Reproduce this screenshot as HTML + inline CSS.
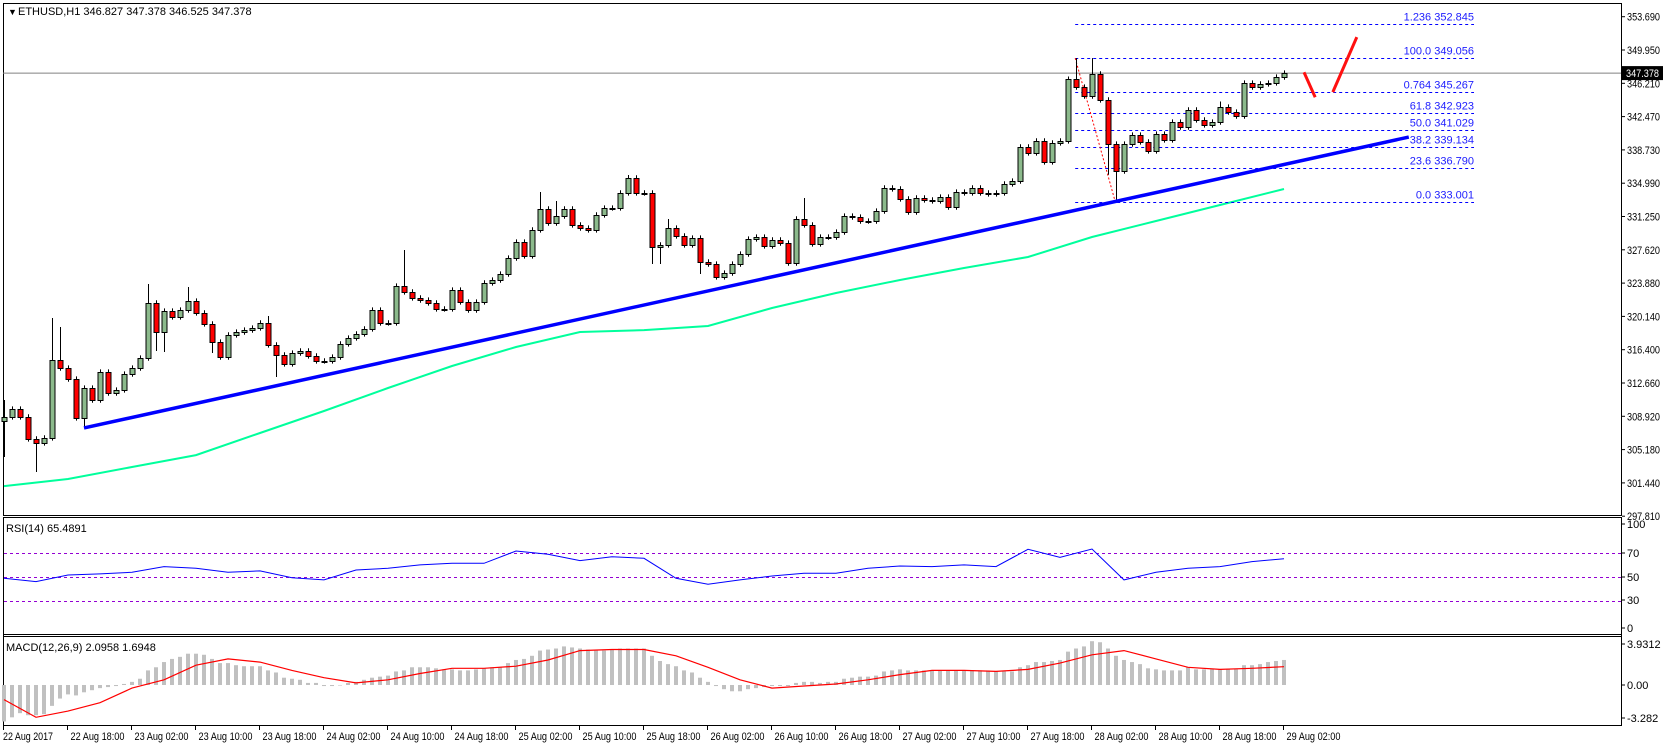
<!DOCTYPE html>
<html><head><meta charset="utf-8"><title>ETHUSD H1</title>
<style>
html,body{margin:0;padding:0;background:#fff;}
svg{display:block;font-family:"Liberation Sans",Tahoma,sans-serif;}
</style></head>
<body>
<svg id="chart" width="1663" height="746" viewBox="0 0 1663 746" xmlns="http://www.w3.org/2000/svg">
<rect x="0" y="0" width="1663" height="746" fill="#fff"/>
<g id="frames" fill="none" stroke="#000" stroke-width="1">
<rect x="3.5" y="3.5" width="1618" height="512"/>
<line x1="3" y1="517.5" x2="1622" y2="517.5"/>
<line x1="3" y1="634.5" x2="1622" y2="634.5"/>
<line x1="3" y1="636.5" x2="1622" y2="636.5"/>
<line x1="3.5" y1="517" x2="3.5" y2="726"/>
<line x1="1621.5" y1="517" x2="1621.5" y2="726"/>
<line x1="3" y1="725.5" x2="1622" y2="725.5"/>
</g>
<text x="8" y="15" font-size="9">▼</text>
<text x="18" y="15" font-size="11" fill="#000">ETHUSD,H1  346.827 347.378 346.525 347.378</text>
<text x="6" y="532" font-size="11" fill="#000">RSI(14) 65.4891</text>
<text x="6" y="651" font-size="11" fill="#000">MACD(12,26,9) 2.0958 1.6948</text>
<g id="layer"></g>
</svg>
<script>
// ===== data =====
const closes = [308.89,309.78,308.89,306.43,305.98,306.54,315.27,314.37,313.14,308.78,
312.13,310.79,313.92,311.57,311.91,313.70,314.37,315.49,321.65,318.40,
320.75,320.08,320.86,321.87,320.53,319.30,317.28,315.60,318.07,318.40,
318.62,318.85,319.41,316.95,315.83,314.82,316.05,316.28,315.72,315.16,
315.16,315.60,317.06,317.73,318.18,318.74,320.86,319.41,319.41,323.55,
322.88,322.21,321.98,321.65,320.98,320.98,323.10,321.76,320.86,321.76,
323.89,324.22,324.89,326.68,328.47,326.91,329.82,332.17,330.60,331.38,
332.17,330.38,330.04,329.82,331.50,332.28,332.28,333.96,335.64,333.96,
333.96,327.91,328.14,330.04,329.15,328.14,328.92,326.24,326.01,324.56,
325.00,326.01,327.13,328.81,329.03,328.03,328.70,328.36,326.12,331.05,
330.38,328.25,329.03,329.03,329.59,331.38,331.27,330.82,330.82,331.94,
334.52,334.41,333.29,331.83,333.40,333.18,333.07,333.51,332.39,334.07,
333.96,334.52,333.96,333.85,333.96,334.97,335.30,339.11,338.44,339.78,
337.43,339.56,339.78,346.72,345.82,344.81,347.28,344.37,339.44,336.42,
339.44,340.45,339.67,338.66,340.56,339.89,341.90,341.34,343.25,342.13,
341.57,341.90,343.58,343.02,342.57,346.27,345.82,346.16,346.27,346.94,347.378];
const firstOpen = 308.4;
const highs = {0:310.79,6:319.97,7:318.96,18:323.77,23:323.44,33:320.19,50:327.58,67:334.07,69:333.06,78:335.97,83:331.05,100:333.40,134:349.056,136:349.056,152:344.2,133:347.0};
const lows = {0:304.41,4:302.73,10:307.66,19:316.28,20:316.17,26:316.05,34:313.37,81:326.01,82:326.01,87:324.89,139:333.001,138:336.0};
const maStep = 8;
const maValues = [301.16,301.95,303.29,304.63,307.10,309.56,312.13,314.60,316.72,318.40,318.62,319.07,321.09,322.77,324.22,325.56,326.80,329.03,330.82,332.62,334.41];
const trendBars = [10,175.6];
const trendPrices = [307.66,340.22];
const fibRatios = ["1.236","100.0","0.764","61.8","50.0","38.2","23.6","0.0"];
const fibPrices = [352.845,349.056,345.267,342.923,341.029,339.134,336.790,333.001];
const fibBars = [133.9,183.75];
const fibDiagBars = [133.9,138.9];
const fibDiagPrices = [349.056,333.001];
const arrowBars = [[162.5,163.9],[166.1,169.1]];
const arrowPrices = [[347.47,344.67],[345.25,351.4]];
const priceTicks = ["353.690","349.950","346.210","342.470","338.730","334.990","331.250","327.620","323.880","320.140","316.400","312.660","308.920","305.180","301.440","297.810"];
const lastPrice = 347.378;
const rsiStep = 4;
const rsiValues = [49.2,46.4,51.9,52.8,54.2,58.9,57.5,54.2,55.3,49.7,47.8,56.1,57.5,60.3,61.7,61.7,71.9,69.2,63.9,67.2,
65.8,49.2,44.2,47.8,51.1,53.3,53.3,57.5,59.4,58.9,60.3,58.9,73.3,66.7,73.6,47.8,54.2,57.5,58.9,63.1,65.49];
const rsiLevels = [70,50,30];
const rsiTicks = ["100","70","50","30","0"];
const macdHist = [-3.5,-3.1,-2.7,-2.9,-2.9,-2.8,-2.0,-1.3,-0.9,-1.0,-0.7,-0.5,-0.3,-0.2,-0.1,0.1,0.3,0.6,1.4,1.7,
2.2,2.5,2.7,3.0,3.0,2.9,2.5,2.1,2.1,1.9,1.8,1.8,1.8,1.4,1.2,0.7,0.6,0.5,0.2,0.2,
-0.1,-0.1,0,0.2,0.3,0.5,0.7,0.8,0.9,1.3,1.4,1.7,1.7,1.7,1.6,1.5,1.5,1.4,1.4,1.5,
1.6,1.7,1.7,2.1,2.4,2.5,2.8,3.3,3.4,3.5,3.7,3.6,3.5,3.4,3.3,3.3,3.4,3.5,3.5,3.5,
3.5,2.8,2.3,2.0,1.8,1.4,1.2,0.7,0.3,-0.1,-0.4,-0.6,-0.6,-0.4,-0.3,-0.2,-0.1,-0.1,-0.1,0.2,
0.3,0.3,0.2,0.3,0.3,0.6,0.7,0.8,0.8,0.9,1.3,1.4,1.5,1.4,1.4,1.4,1.4,1.4,1.4,1.4,
1.4,1.4,1.4,1.4,1.3,1.3,1.3,1.7,1.9,2.2,2.2,2.3,2.4,3.2,3.5,3.7,4.2,4.1,3.5,2.8,
2.4,2.2,2.0,1.6,1.5,1.4,1.4,1.4,1.7,1.5,1.5,1.5,1.5,1.5,1.5,1.9,1.9,2.0,2.2,2.3,2.4];
const sigStep = 4;
const macdSignal = [-1.4,-3.1,-2.5,-1.7,-0.3,0.5,1.9,2.5,2.2,1.4,0.7,0.2,0.5,1.1,1.6,1.6,1.8,2.4,3.3,3.4,
3.4,2.8,1.7,0.5,-0.3,-0.1,0.1,0.5,1.0,1.4,1.4,1.3,1.5,2.1,2.9,3.3,2.5,1.7,1.5,1.6,1.75];
const macdTicks = ["3.9312","0.00","-3.282"];
const macdTickVals = [3.9312,0,-3.282];
const timeLabels = ["22 Aug 18:00","23 Aug 02:00","23 Aug 10:00","23 Aug 18:00","24 Aug 02:00","24 Aug 10:00","24 Aug 18:00","25 Aug 02:00","25 Aug 10:00","25 Aug 18:00","26 Aug 02:00","26 Aug 10:00","26 Aug 18:00","27 Aug 02:00","27 Aug 10:00","27 Aug 18:00","28 Aug 02:00","28 Aug 10:00","28 Aug 18:00","29 Aug 02:00"];
const timeLabelStartBar = 8;
const timeLabelEvery = 8;

// ===== axes =====
const NS = "http://www.w3.org/2000/svg";
const layer = document.getElementById('layer');
const xOf = k => 4 + 8 * k;
const yP = p => 16.7 + (353.69 - p) * 8.935;
const yR = v => 577.3 - (v - 50) * 1.2;
const yM = v => 685 - v * 10.43;
function mk(tag, attrs, parent) {
  const e = document.createElementNS(NS, tag);
  for (const a in attrs) e.setAttribute(a, attrs[a]);
  (parent || layer).appendChild(e);
  return e;
}
function grp(name) {
  const g = document.createElementNS(NS, 'g');
  
  
  layer.appendChild(g);
  return g;
}

// price axis
const pax = grp('price-axis');
const axTop = 16.7, axBot = 516.2;
priceTicks.forEach((t, i) => {
  const y = axTop + i * (axBot - axTop) / (priceTicks.length - 1);
  mk('line', {x1: 1622, y1: y, x2: 1625, y2: y, stroke: '#000'}, pax);
  const tx = mk('text', {x: 1627, y: y + 4, 'font-size': 11, fill: '#000', textLength: 33, lengthAdjust: 'spacingAndGlyphs'}, pax);
  
  
  tx.textContent = t;
});

// MA line
const maG = grp('moving-average-line');
let d = 'M4 ' + yP(maValues[0]).toFixed(1);
maValues.forEach((v, i) => { d += 'L' + xOf(i * maStep) + ' ' + yP(v).toFixed(1); });
mk('path', {d: d, fill: 'none', stroke: '#00ff9c', 'stroke-width': 2}, maG);

// current price line
const cp = grp('current-price-line');
mk('line', {x1: 3, y1: yP(lastPrice), x2: 1621, y2: yP(lastPrice), stroke: '#808080'}, cp);

// fib
const fib = grp('fibonacci-retracement');
fibPrices.forEach((p, i) => {
  const y = Math.round(yP(p)) + 0.5;
  const ln = mk('line', {x1: xOf(fibBars[0]), y1: y, x2: xOf(fibBars[1]), y2: y, stroke: '#0000ff', 'stroke-dasharray': '3,3'}, fib);
  
  
  const tx = mk('text', {x: xOf(fibBars[1]), y: y - 4, 'font-size': 11, fill: '#2020ff', 'text-anchor': 'end'}, fib);
  
  
  tx.textContent = fibRatios[i] + '  ' + p.toFixed(3);
});
mk('line', {x1: xOf(fibDiagBars[0]), y1: yP(fibDiagPrices[0]), x2: xOf(fibDiagBars[1]), y2: yP(fibDiagPrices[1]), stroke: '#ff0000', 'stroke-dasharray': '2,2'}, fib);

// candles
const cg = grp('candlesticks');
closes.forEach((c, k) => {
  const o = k === 0 ? firstOpen : closes[k - 1];
  const hi = highs[k] !== undefined ? highs[k] : Math.max(o, c) + 0.3;
  const lo = lows[k] !== undefined ? lows[k] : Math.min(o, c) - 0.3;
  const x = xOf(k);
  const w = mk('line', {x1: x + 0.5, y1: yP(hi), x2: x + 0.5, y2: yP(lo), stroke: '#000'}, cg);
  
  
  const yt = Math.round(yP(Math.max(o, c))), yb = Math.round(yP(Math.min(o, c)));
  const b = mk('rect', {x: x - 2, y: yt + 0.5, width: 5, height: Math.max(1, yb - yt), fill: c >= o ? '#8cba8c' : '#ff0000', stroke: '#000', 'stroke-width': 1}, cg);
  
  
});

// trendline
const tl = grp('support-trendline');
mk('line', {x1: xOf(trendBars[0]), y1: yP(trendPrices[0]), x2: xOf(trendBars[1]), y2: yP(trendPrices[1]), stroke: '#0000ff', 'stroke-width': 3.5}, tl);

// red arrow drawing
const ar = grp('projection-arrow');
arrowBars.forEach((b, i) => {
  mk('line', {x1: xOf(b[0]), y1: yP(arrowPrices[i][0]), x2: xOf(b[1]), y2: yP(arrowPrices[i][1]), stroke: '#ff1010', 'stroke-width': 3}, ar);
});

// price label box
const pl = grp('current-price-label');
mk('rect', {x: 1622, y: yP(lastPrice) - 7, width: 41, height: 14, fill: '#000'}, pl);
const plt = mk('text', {x: 1626, y: yP(lastPrice) + 4, 'font-size': 11, fill: '#fff', textLength: 33, lengthAdjust: 'spacingAndGlyphs'}, pl);
plt.textContent = lastPrice.toFixed(3);

// RSI
const rg = grp('rsi-panel');
rsiLevels.forEach(v => {
  const l = mk('line', {x1: 4, y1: Math.round(yR(v)) + 0.5, x2: 1621, y2: Math.round(yR(v)) + 0.5, stroke: '#9400d3', 'stroke-dasharray': '3,3'}, rg);
  
  
});
let rd = '';
rsiValues.forEach((v, i) => { rd += (i ? 'L' : 'M') + xOf(i * rsiStep) + ' ' + yR(v).toFixed(1); });
mk('path', {d: rd, fill: 'none', stroke: '#0000ff', 'stroke-width': 1}, rg);
const rsiTickY = [524, 553, 577, 600, 628];
rsiTicks.forEach((t, i) => {
  mk('line', {x1: 1622, y1: rsiTickY[i], x2: 1625, y2: rsiTickY[i], stroke: '#000'}, rg);
  const tx = mk('text', {x: 1627, y: rsiTickY[i] + 4, 'font-size': 11, fill: '#000'}, rg);
  
  
  tx.textContent = t;
});

// MACD
const mg = grp('macd-panel');
macdHist.forEach((v, k) => {
  const y0 = yM(0), y1 = yM(v);
  const r = mk('rect', {x: xOf(k) - 2, y: Math.min(y0, y1), width: 4, height: Math.max(0.5, Math.abs(y1 - y0)), fill: '#c0c0c0'}, mg);
  
  
});
let sd = '';
macdSignal.forEach((v, i) => { sd += (i ? 'L' : 'M') + xOf(i * sigStep) + ' ' + yM(v).toFixed(1); });
mk('path', {d: sd, fill: 'none', stroke: '#ff0000', 'stroke-width': 1.2}, mg);
macdTicks.forEach((t, i) => {
  const y = i === 0 ? 644 : (i === 2 ? 718 : yM(macdTickVals[i]));
  mk('line', {x1: 1622, y1: y, x2: 1625, y2: y, stroke: '#000'}, mg);
  const tx = mk('text', {x: 1627, y: y + 4, 'font-size': 11, fill: '#000'}, mg);
  
  
  tx.textContent = t;
});

// time axis
const ta = grp('time-axis');
const first = mk('text', {x: 3, y: 740, 'font-size': 11, fill: '#000', textLength: 50, lengthAdjust: 'spacingAndGlyphs'}, ta);
first.textContent = '22 Aug 2017';
mk('line', {x1: 3.5, y1: 726, x2: 3.5, y2: 730, stroke: '#000'}, ta);
timeLabels.forEach((t, i) => {
  const x = Math.round(xOf(timeLabelStartBar + i * timeLabelEvery) - 1) + 0.5;
  mk('line', {x1: x, y1: 726, x2: x, y2: 730, stroke: '#000'}, ta);
  const tx = mk('text', {x: x + 3, y: 740, 'font-size': 11, fill: '#000', textLength: 54, lengthAdjust: 'spacingAndGlyphs'}, ta);
  
  
  tx.textContent = t;
});
</script>
</body></html>
